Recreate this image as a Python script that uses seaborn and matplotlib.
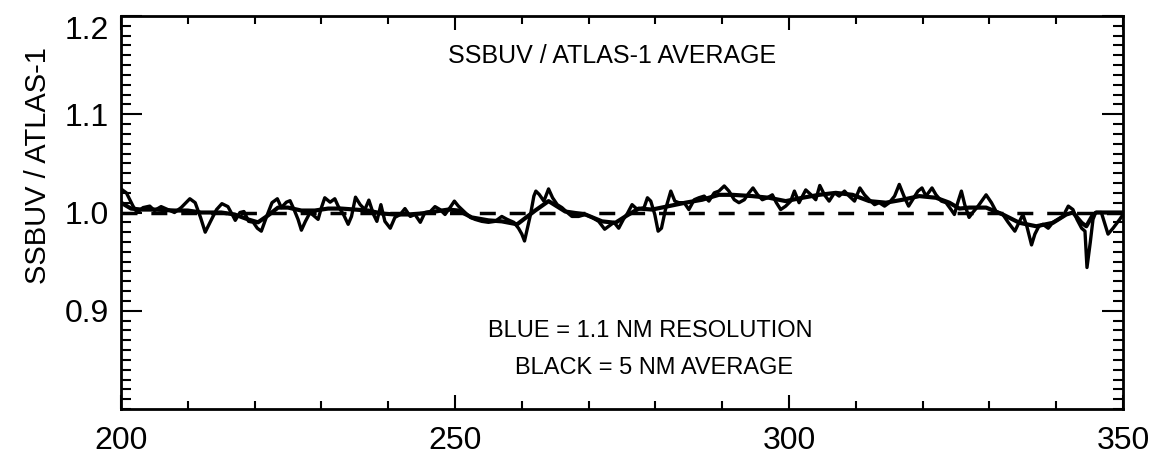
import pandas as pd
import matplotlib
matplotlib.use("Agg")
import matplotlib.pyplot as plt
from matplotlib.ticker import MultipleLocator
from matplotlib.transforms import ScaledTranslation
import seaborn as sns

# 1.1 nm resolution ratio (vertices)
wl_res = [200.0, 200.8, 201.8, 202.4, 203.3, 204.3, 205.0, 206.0, 207.0, 208.0,
          209.0, 210.3, 211.1, 211.9, 212.6, 213.4, 214.3, 215.1, 216.0, 216.8,
          217.1, 217.8, 218.4, 219.1, 219.8, 220.4, 221.0, 221.8, 222.6, 223.4,
          224.0, 224.75, 225.3, 225.9, 226.5, 227.0, 227.6, 228.3, 229.0, 229.5,
          230.0, 230.5, 231.3, 232.0, 232.5, 233.3, 234.0, 234.5, 235.1, 235.8,
          236.5, 237.1, 237.8, 238.3, 238.9, 239.5, 240.3, 241.0, 241.8, 242.5,
          243.3, 244.0, 244.8, 245.5, 246.3, 247.0, 247.75, 248.5, 249.25, 249.9,
          250.5, 251.5, 252.3, 253.0, 254.0, 255.0, 256.0, 257.0, 257.8, 258.8,
          259.5, 260.0, 260.4, 260.8, 261.3, 261.8, 262.1, 262.6, 263.3, 264.0,
          264.6, 265.3, 266.0, 266.8, 267.5, 268.5, 269.5, 270.5, 271.5, 272.4,
          273.0, 273.8, 274.5, 275.2, 275.8, 276.5, 277.3, 278.3, 278.8, 279.3,
          279.9, 280.4, 280.9, 281.5, 282.3, 282.9, 283.5, 284.3, 285.0, 285.8,
          286.5, 287.3, 288.0, 288.8, 289.5, 290.3, 291.0, 291.8, 292.5, 293.3,
          294.0, 294.6, 295.3, 296.0, 296.75, 297.5, 298.1, 298.75, 299.5, 300.25,
          300.8, 301.5, 302.5, 303.3, 304.0, 304.6, 305.3, 306.0, 306.8, 307.5,
          308.3, 309.0, 309.8, 310.6, 311.3, 312.0, 312.8, 313.5, 314.3, 315.0,
          315.8, 316.5, 317.3, 317.9, 318.5, 319.3, 319.9, 320.5, 321.4, 322.0,
          322.8, 323.5, 324.25, 324.75, 325.25, 325.8, 326.3, 326.95, 327.5, 328.3,
          329.5, 330.3, 331.0, 332.0, 332.8, 333.8, 334.5, 335.0, 335.6, 336.3,
          336.8, 337.4, 338.0, 338.8, 339.5, 340.3, 341.0, 341.8, 342.5, 343.1,
          343.8, 344.3, 344.6, 345.1, 345.5, 345.9, 346.75, 347.75, 348.5, 349.5,
          350.0]
ratio_res = [1.024, 1.020, 1.0065, 1.000, 1.005, 1.0065, 1.002, 1.006, 1.003, 1.000,
             1.005, 1.014, 1.010, 0.995, 0.980, 0.991, 1.003, 1.009, 1.006, 0.996,
             0.992, 1.000, 1.001, 0.991, 0.990, 0.984, 0.981, 0.996, 1.010, 1.014,
             1.005, 1.0105, 1.012, 1.003, 0.993, 0.982, 0.991, 1.000, 0.996, 0.993,
             1.005, 1.015, 1.0105, 1.014, 1.0065, 0.998, 0.988, 0.996, 1.0156, 1.008,
             1.003, 1.0126, 0.998, 0.991, 1.008, 0.991, 0.984, 0.995, 0.998, 1.004,
             0.996, 0.998, 0.990, 1.000, 1.001, 1.006, 1.003, 0.998, 1.005, 1.0116,
             1.0065, 1.000, 0.995, 0.993, 0.991, 0.990, 0.991, 0.996, 0.993, 0.990,
             0.984, 0.978, 0.971, 0.983, 0.998, 1.0167, 1.0218, 1.0184, 1.0116, 1.024,
             1.015, 1.008, 1.005, 1.000, 0.996, 0.996, 0.998, 0.995, 0.991, 0.983,
             0.986, 0.990, 0.984, 0.993, 0.999, 1.008, 1.003, 1.005, 1.015, 1.0116,
             0.998, 0.981, 0.984, 1.003, 1.0218, 1.0116, 1.010, 1.010, 1.003, 1.013,
             1.015, 1.0167, 1.0116, 1.020, 1.0218, 1.027, 1.0218, 1.013, 1.010, 1.013,
             1.020, 1.025, 1.018, 1.013, 1.015, 1.018, 1.010, 1.003, 1.0065, 1.0116,
             1.0218, 1.010, 1.023, 1.018, 1.013, 1.0275, 1.018, 1.0116, 1.020, 1.0167,
             1.0218, 1.0167, 1.0116, 1.025, 1.018, 1.013, 1.008, 1.010, 1.0065, 1.010,
             1.0167, 1.0286, 1.015, 1.0065, 1.013, 1.0218, 1.025, 1.0167, 1.025, 1.018,
             1.0116, 1.010, 1.003, 0.998, 1.010, 1.0218, 1.008, 0.995, 1.000, 1.0065,
             1.018, 1.010, 1.001, 0.998, 0.990, 0.981, 0.991, 0.998, 0.986, 0.967,
             0.978, 0.986, 0.988, 0.984, 0.990, 0.993, 0.996, 1.0065, 1.003, 0.993,
             0.984, 0.981, 0.944, 0.970, 0.993, 1.000, 1.000, 0.978, 0.984, 0.993,
             0.998]

# 5 nm average ratio
wl_avg = [200.0, 201.5, 203.0, 205.0, 208.0, 210.0, 212.0, 215.0, 217.0, 219.0,
          220.5, 222.0, 223.5, 225.0, 227.0, 229.0, 231.0, 233.0, 235.0, 237.0,
          239.0, 241.0, 243.0, 245.0, 247.0, 249.0, 250.5, 252.5, 255.0, 257.0,
          259.3, 262.0, 264.0, 266.5, 269.5, 272.0, 274.0, 275.5, 277.5, 279.5,
          282.0, 284.5, 287.0, 289.5, 291.5, 294.5, 297.0, 299.5, 302.0, 304.5,
          307.0, 309.5, 312.0, 314.5, 317.0, 319.5, 322.0, 324.0, 325.5, 327.0,
          329.5, 332.0, 334.5, 337.0, 339.5, 341.5, 342.5, 343.8, 344.5, 345.5,
          346.0, 350.0]
ratio_avg = [1.010, 1.004, 1.003, 1.003, 1.002, 1.002, 1.000, 1.000, 0.998, 0.993,
             0.990, 0.997, 1.005, 1.005, 1.002, 1.002, 1.004, 1.004, 1.003, 1.002,
             0.999, 0.998, 0.998, 0.999, 1.001, 1.003, 1.002, 0.995, 0.992, 0.991,
             0.988, 1.002, 1.0116, 1.001, 0.998, 0.991, 0.9895, 0.996, 1.004, 1.003,
             1.0065, 1.010, 1.013, 1.018, 1.018, 1.0167, 1.015, 1.0116, 1.015, 1.018,
             1.020, 1.018, 1.0116, 1.010, 1.013, 1.0167, 1.015, 1.010, 1.004, 1.005,
             1.005, 0.998, 0.9895, 0.986, 0.9895, 0.998, 1.000, 0.9895, 0.986, 0.998,
             1.000, 1.000]

reference_level = 1.0
x_ticks = [200, 250, 300, 350]
y_ticks = [0.9, 1.0, 1.1, 1.2]
y_tick_labels = ["0.9", "1.0", "1.1", "1.2"]

sns.set_theme(style="ticks")
plt.rcParams['font.family'] = ['Liberation Sans', 'DejaVu Sans']
plt.rcParams['text.color'] = 'black'
plt.rcParams['axes.labelcolor'] = 'black'
plt.rcParams['xtick.color'] = 'black'
plt.rcParams['ytick.color'] = 'black'

fig, ax = plt.subplots(figsize=(11.56, 4.57), dpi=100)
fig.subplots_adjust(left=0.1047, right=0.9715, bottom=0.105, top=0.965)

df_res = pd.DataFrame({"wl": wl_res, "ratio": ratio_res})
df_avg = pd.DataFrame({"wl": wl_avg, "ratio": ratio_avg})

sns.lineplot(data=df_res, x="wl", y="ratio", ax=ax, color="black",
             linewidth=2.4, sort=False, estimator=None)
sns.lineplot(data=df_avg, x="wl", y="ratio", ax=ax, color="black",
             linewidth=3.0, sort=False, estimator=None)
ax.axhline(reference_level, color="black", linewidth=2.5,
           linestyle=(0, (4.6, 4.0)))

ax.set_xlim(200, 350)
ax.set_ylim(0.8, 1.2)
ax.set_xticks(x_ticks)
ax.set_xticklabels([str(v) for v in x_ticks])
ax.set_yticks(y_ticks)
ax.set_yticklabels(y_tick_labels)
ax.xaxis.set_minor_locator(MultipleLocator(10))
ax.yaxis.set_minor_locator(MultipleLocator(0.01))

ax.tick_params(axis="both", which="both", direction="in", top=True, right=True,
               color="black", labelcolor="black", width=1.5)
ax.tick_params(axis="x", which="major", length=10, labelsize=23, pad=12)
ax.tick_params(axis="x", which="minor", length=5.5)
ax.tick_params(axis="y", which="major", length=15, labelsize=23, pad=9)
ax.tick_params(axis="y", which="minor", length=7.5)
for sp in ax.spines.values():
    sp.set_linewidth(2.0)
    sp.set_color("black")

# top label sits a little below the frame edge in the original
top_lbl = ax.get_yticklabels()[-1]
top_lbl.set_transform(top_lbl.get_transform() +
                      ScaledTranslation(0, -0.12, fig.dpi_scale_trans))

ax.set_xlabel("")
ax.set_ylabel("SSBUV / ATLAS-1", fontsize=21, color="black")
ax.yaxis.set_label_coords(-0.069, 0.62)

ax.text(0.49, 0.898, "SSBUV / ATLAS-1 AVERAGE", transform=ax.transAxes,
        ha="center", va="center", fontsize=18, color="black")
ax.text(0.528, 0.198, "BLUE = 1.1 NM RESOLUTION", transform=ax.transAxes,
        ha="center", va="center", fontsize=17, color="black")
ax.text(0.532, 0.104, "BLACK = 5 NM AVERAGE", transform=ax.transAxes,
        ha="center", va="center", fontsize=17, color="black")

fig.savefig("out.png", dpi=100)
